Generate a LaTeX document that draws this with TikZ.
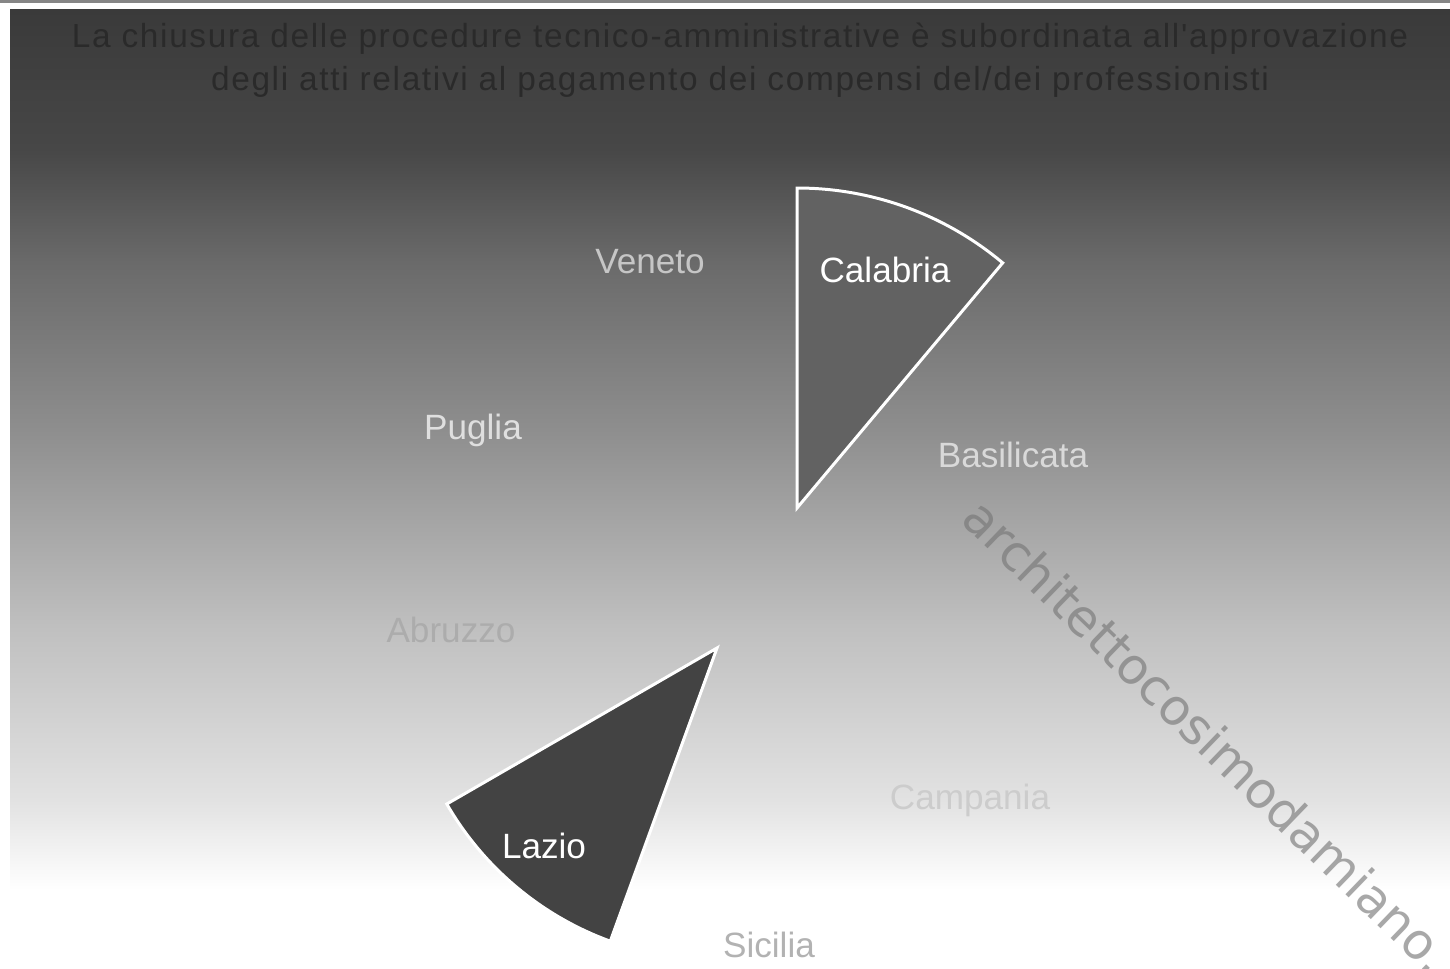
\documentclass[tikz,border=0pt]{standalone}
\usepackage{fontspec}
\setmainfont{Liberation Sans}
\newfontfamily\titlefont[LetterSpace=5]{Liberation Sans}
\newfontfamily\wmfont{DejaVu Sans}
\usepackage{xcolor}
\usepackage{tikz}

\definecolor{bgtop}{HTML}{3A3A3A}
\definecolor{bgA}{HTML}{474747}
\definecolor{bgB}{HTML}{6A6A6A}
\definecolor{bgC}{HTML}{8E8E8E}
\definecolor{bgD}{HTML}{C0C0C0}
\definecolor{bgE}{HTML}{E2E2E2}
\definecolor{titlegray}{HTML}{2A2A2A}
\definecolor{calfill}{HTML}{626262}
\definecolor{lazfill}{HTML}{434343}
\definecolor{wmgray}{HTML}{767676}
\pgfdeclareverticalshading{bgfade}{100bp}{color(0bp)=(white); color(26bp)=(white); color(31bp)=(bgE); color(40.5bp)=(bgD); color(51.6bp)=(bgC); color(60.9bp)=(bgB); color(67.2bp)=(bgA); color(75bp)=(bgtop); color(100bp)=(bgtop)}

\begin{document}
\begin{tikzpicture}
               [x=0.02cm, y=0.02cm,
                region/.style = {font=\fontsize{20}{24}\selectfont, inner sep=0pt},
                region1/.style = {draw=white, line width=1.7pt, line join=miter}]
                \useasboundingbox (0,0) rectangle (1450,-968);
                \clip (0,0) rectangle (1450,-968);
                % Background
                \fill[gray!95] (0,0) rectangle (1450,-3);
                \shade[shading=bgfade] (10,-9) rectangle (1450,-908);
                % Title
                \node[font=\titlefont\fontsize{19}{24.5}\selectfont, text=titlegray, align=center] (title) at (740,-60)
                  {La chiusura delle procedure tecnico-amministrative \`e subordinata all'approvazione\\
                   degli atti relativi al pagamento dei compensi del/dei professionisti};
                % Slices
                \coordinate (cal) at (797,-508);
                \coordinate (laz) at (717,-648);
                \draw[region1, fill=calfill] (cal) -- ++(90:320) arc[start angle=90, end angle=50, radius=320] -- cycle;
                \draw[region1, fill=lazfill] (laz) -- ++(210:312) arc[start angle=210, end angle=250, radius=312] -- cycle;
                % Labels
                \node[region, text=white] (calabria) at (885,-270) {Calabria};
                \node[region, text=white] (lazio) at (544,-846) {Lazio};
                \node[region, text=gray!45] (veneto) at (650,-262) {Veneto};
                \node[region, text=gray!25] (puglia) at (473,-430) {Puglia};
                \node[region, text=gray!30] (basilicata) at (1013,-455) {Basilicata};
                \node[region, text=gray!65] (abruzzo) at (451,-630) {Abruzzo};
                \node[region, text=gray!40] (campania) at (970,-800) {Campania};
                \node[region, text=gray!60] (sicilia) at (769,-945) {Sicilia};
                % Watermark
                \node[font=\wmfont\fontsize{28.5}{30}\selectfont, text=wmgray, text opacity=0.63, inner sep=0pt, anchor=mid west, rotate=-44] (mark) at (962,-518) {architettocosimodamiano.};
            \end{tikzpicture}
\end{document}
